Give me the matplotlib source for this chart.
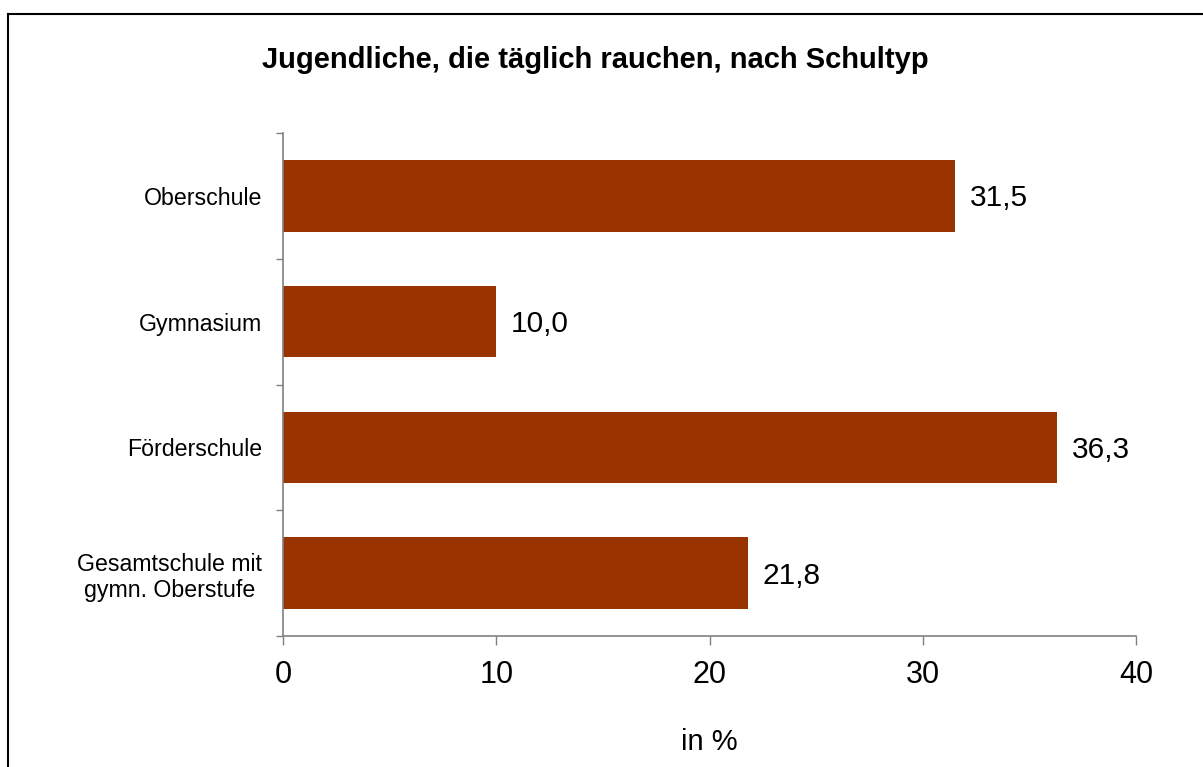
import matplotlib
matplotlib.use("Agg")
import numpy as np
from matplotlib import pyplot as plt
from matplotlib.lines import Line2D

# data
categories = ["Oberschule", "Gymnasium", "Förderschule", "Gesamtschule mit\ngymn. Oberstufe"]
values = [31.5, 10.0, 36.3, 21.8]
value_labels = ["31,5", "10,0", "36,3", "21,8"]
xticks = [0, 10, 20, 30, 40]

plt.rcParams['font.family'] = ['Liberation Sans', 'DejaVu Sans']

W, H = 1203, 767
fig = plt.figure(figsize=(W / 100, H / 100), dpi=100)
fig.patch.set_facecolor("white")

# axes placement (pixels)
left, right, top, bottom = 283, 1136, 133, 636
ax = fig.add_axes([left / W, 1 - bottom / H, (right - left) / W, (bottom - top) / H])

ypos = np.arange(len(categories))
ax.barh(ypos, values, height=0.57, color="#993300", edgecolor="none")

for y, v, lab in zip(ypos, values, value_labels):
    ax.text(v + 0.7, y + 0.02, lab, va="center", ha="left", fontsize=21.5)

ax.set_xlim(0, 40)
ax.set_ylim(len(categories) - 0.5, -0.5)

# x axis
ax.set_xticks(xticks)
ax.set_xticklabels([str(t) for t in xticks], fontsize=22)
ax.tick_params(axis="x", direction="out", length=6.5, width=1, color="#808080", pad=11)
ax.set_xlabel("in %", fontsize=21, labelpad=27)

# y axis: ticks at boundaries, labels in between
ax.set_yticks(np.arange(-0.5, len(categories)))
ax.set_yticklabels([])
ax.tick_params(axis="y", which="major", direction="out", length=5, width=1, color="#808080")
ax.set_yticks(ypos, minor=True)
ax.set_yticklabels(categories, minor=True, fontsize=16.7, multialignment="center")
ax.tick_params(axis="y", which="minor", length=0, pad=15)

for s in ["top", "right"]:
    ax.spines[s].set_visible(False)
for s in ["left", "bottom"]:
    ax.spines[s].set_color("#808080")
    ax.spines[s].set_linewidth(1.2)

fig.text(595 / W, 1 - 60 / H, "Jugendliche, die täglich rauchen, nach Schultyp",
         ha="center", va="center", fontsize=21, fontweight="bold")

# outer frame (top and left edges visible)
fig.add_artist(Line2D([7.5 / W, 1], [1 - 13.5 / H, 1 - 13.5 / H], transform=fig.transFigure,
                      color="black", lw=1.5))
fig.add_artist(Line2D([7.5 / W, 7.5 / W], [0, 1 - 13.5 / H], transform=fig.transFigure,
                      color="black", lw=1.5))

fig.savefig("out.png", dpi=100)
